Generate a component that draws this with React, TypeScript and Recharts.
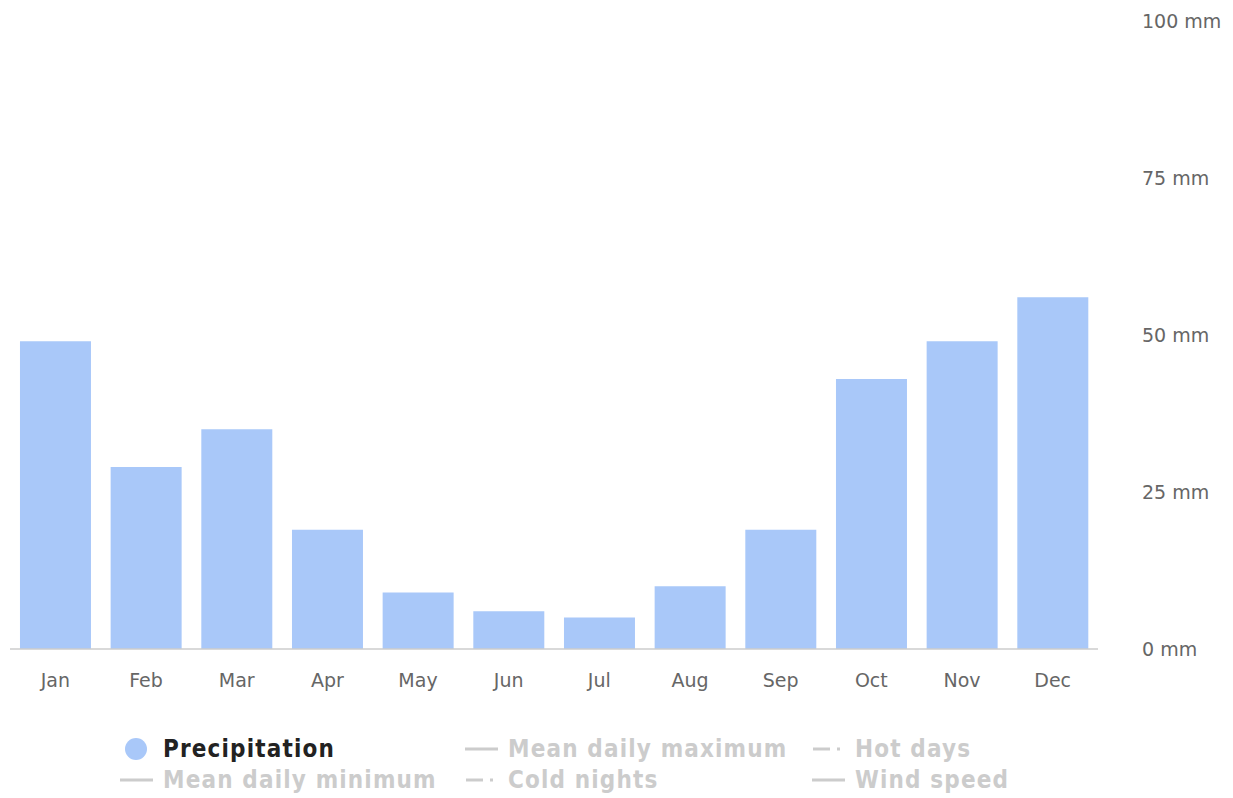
import React from "react";
import { BarChart, Bar, XAxis, YAxis, Legend } from "recharts";

const months = ["Jan", "Feb", "Mar", "Apr", "May", "Jun", "Jul", "Aug", "Sep", "Oct", "Nov", "Dec"];
const precipitation = [49, 29, 35, 19, 9, 6, 5, 10, 19, 43, 49, 56];
const yTicks = [0, 25, 50, 75, 100];

// legend entries: label, icon type, active
const legendRow1 = [
  { label: "Precipitation", icon: "dot", active: true },
  { label: "Mean daily maximum", icon: "line", active: false },
  { label: "Hot days", icon: "dashdot", active: false },
];
const legendRow2 = [
  { label: "Mean daily minimum", icon: "line", active: false },
  { label: "Cold nights", icon: "dashdot", active: false },
  { label: "Wind speed", icon: "line", active: false },
];

const data = months.map((m, i) => ({ month: m, precipitation: precipitation[i] }));

const BAR = "#a9c8f9";
const MUTED = "#cccccc";
const TICK = "#666666";
const FONT = "'DejaVu Sans', Verdana, sans-serif";
const LEGEND_FONT = "'DejaVu Sans Condensed', 'DejaVu Sans', sans-serif";

const LegendIcon = ({ type, active }: { type: string; active: boolean }) => {
  if (type === "dot") {
    return (
      <svg width={33} height={24} style={{ display: "block" }}>
        <circle cx={16} cy={12} r={11} fill={BAR} />
      </svg>
    );
  }
  const c = active ? "#222" : MUTED;
  if (type === "dashdot") {
    return (
      <svg width={33} height={24} style={{ display: "block" }}>
        <line x1={1} y1={12} x2={18} y2={12} stroke={c} strokeWidth={3} />
        <rect x={25} y={10.5} width={3} height={3} fill={c} />
      </svg>
    );
  }
  return (
    <svg width={33} height={24} style={{ display: "block" }}>
      <line x1={0} y1={12} x2={33} y2={12} stroke={c} strokeWidth={3} />
    </svg>
  );
};

const colLeft = [120, 465, 812];

const LegendItem = ({ item, left, top }: any) => (
  <div
    style={{
      position: "absolute",
      left,
      top,
      display: "flex",
      alignItems: "center",
      gap: 10,
      fontFamily: LEGEND_FONT,
      fontWeight: "bold",
      fontSize: 24,
      letterSpacing: 1.15,
      color: item.active ? "#222222" : MUTED,
      whiteSpace: "nowrap",
    }}
  >
    <LegendIcon type={item.icon} active={item.active} />
    <span>{item.label}</span>
  </div>
);

const renderLegend = () => (
  <div style={{ position: "relative", width: 1233, height: 68 }}>
    {legendRow1.map((it, i) => (
      <LegendItem key={it.label} item={it} left={colLeft[i]} top={0} />
    ))}
    {legendRow2.map((it, i) => (
      <LegendItem key={it.label} item={it} left={colLeft[i]} top={31} />
    ))}
  </div>
);

const RightTick = (props: any) => {
  const { x, y, payload } = props;
  return (
    <text x={x + 36} y={y} dy={7} textAnchor="start" fill={TICK} fontSize={19} fontFamily={FONT}>
      {payload.value} mm
    </text>
  );
};

export default function App() {
  return (
    <div style={{ position: "absolute", left: 0, top: 0, background: "#fff" }}>
      <BarChart
        width={1233}
        height={798}
        data={data}
        margin={{ top: 21, right: 0, left: 10, bottom: 0 }}
        barCategoryGap="11%"
      >
        <XAxis
          dataKey="month"
          axisLine={{ stroke: "#cccccc", strokeWidth: 1.5 }}
          tickLine={false}
          height={81}
          tick={{ fill: TICK, fontSize: 19, fontFamily: FONT }}
          tickMargin={19}
        />
        <YAxis
          orientation="right"
          domain={[0, 100]}
          ticks={yTicks}
          axisLine={false}
          tickLine={false}
          width={135}
          tick={<RightTick />}
        />
        <Legend
          verticalAlign="bottom"
          content={renderLegend}
          wrapperStyle={{ left: 0, top: 735, width: 1233 }}
        />
        <Bar dataKey="precipitation" fill={BAR} isAnimationActive={false} />
      </BarChart>
    </div>
  );
}
